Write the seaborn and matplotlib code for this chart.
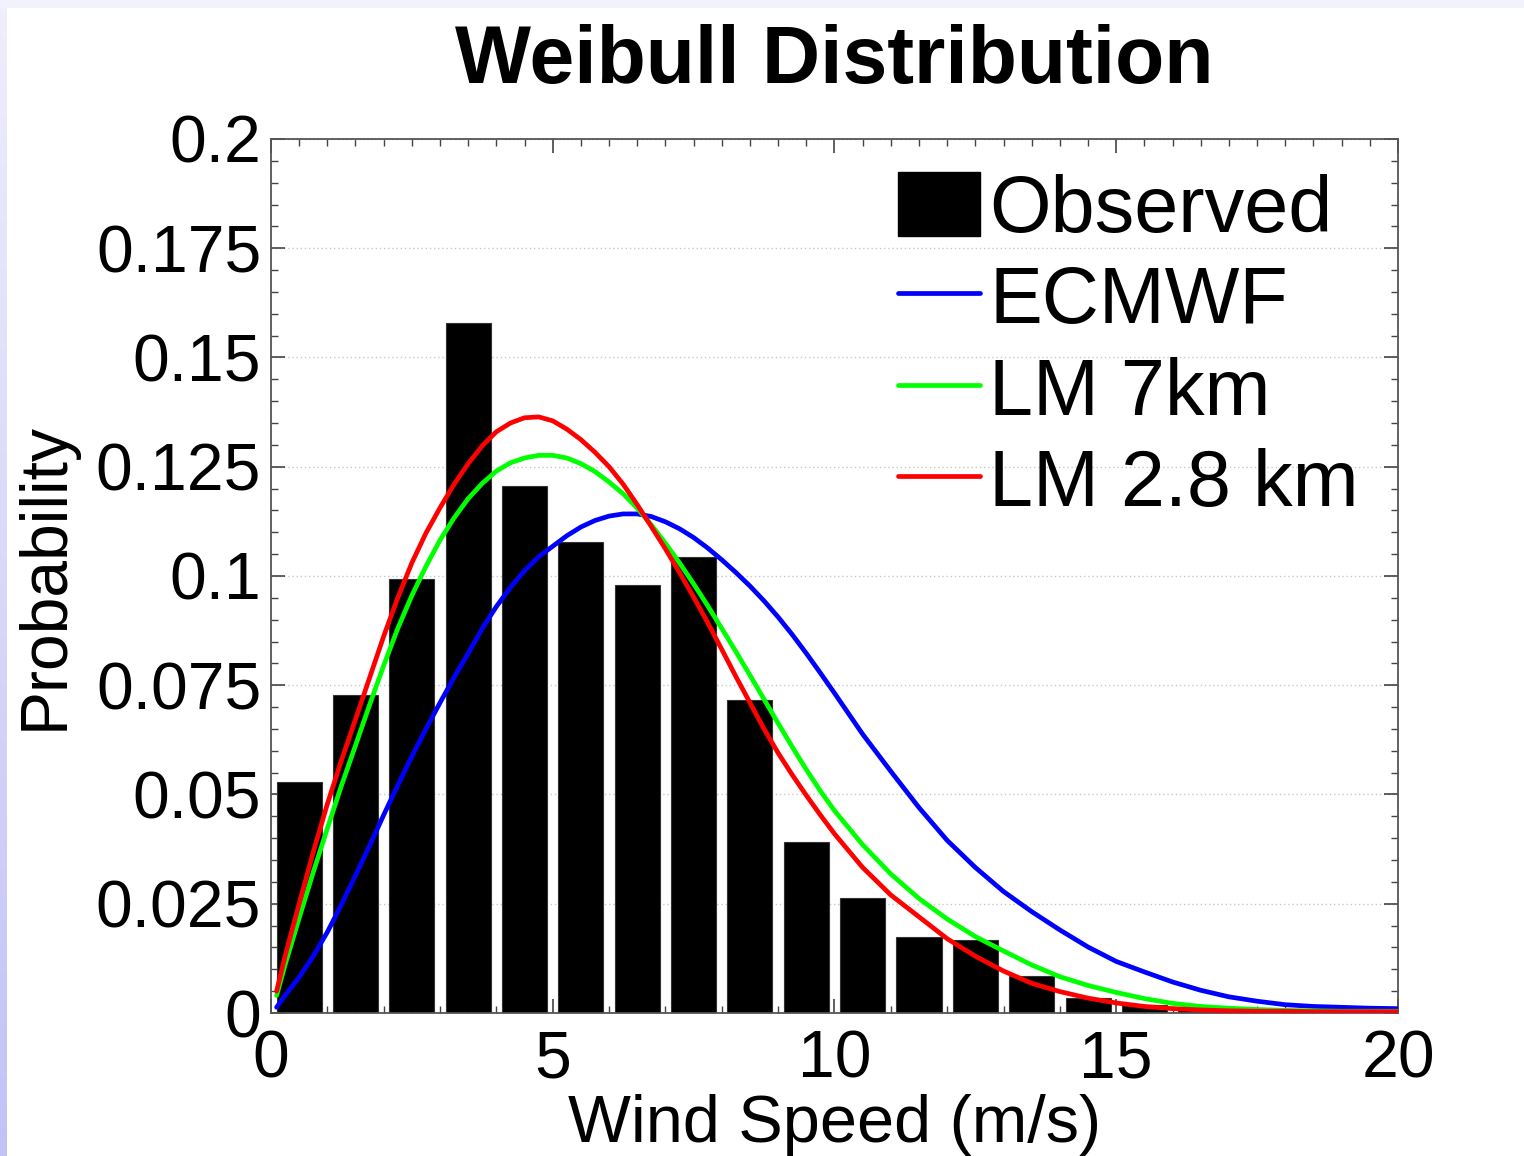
import numpy as np
import pandas as pd
import matplotlib
matplotlib.use("Agg")
import matplotlib.pyplot as plt
from matplotlib.patches import Patch, Rectangle
from matplotlib.lines import Line2D
from matplotlib.ticker import MultipleLocator
from matplotlib.colors import LinearSegmentedColormap
import seaborn as sns

# ── Données ────────────────────────────────────────────────────────────
bin_centers = [0.5, 1.5, 2.5, 3.5, 4.5, 5.5, 6.5, 7.5, 8.5, 9.5,
               10.5, 11.5, 12.5, 13.5, 14.5, 15.5, 16.5, 17.5, 18.5, 19.5]
observed = [0.0529, 0.0727, 0.0994, 0.158, 0.1205, 0.1078, 0.0979, 0.1043, 0.0716, 0.0392,
            0.0264, 0.0174, 0.0168, 0.0085, 0.0034, 0.0019, 0.0008, 0.0004, 0.0002, 0.0001]

curve_x = [0.1, 0.25, 0.5, 0.75, 1.0, 1.25, 1.5, 1.75, 2.0, 2.25,
           2.5, 2.75, 3.0, 3.25, 3.5, 3.75, 4.0, 4.25, 4.5, 4.75,
           5.0, 5.25, 5.5, 5.75, 6.0, 6.25, 6.5, 6.75, 7.0, 7.25,
           7.5, 7.75, 8.0, 8.25, 8.5, 8.75, 9.0, 9.25, 9.5, 9.75,
           10.0, 10.5, 11.0, 11.5, 12.0, 12.5, 13.0, 13.5, 14.0, 14.5,
           15.0, 15.5, 16.0, 16.5, 17.0, 17.5, 18.0, 18.5, 19.0, 19.5,
           20.0]
ecmwf = [0.0013, 0.0040, 0.0082, 0.0130, 0.0185, 0.0248, 0.0315, 0.0383, 0.0453, 0.0521,
         0.0587, 0.0650, 0.0710, 0.0768, 0.0823, 0.0880, 0.0930, 0.0974, 0.1012, 0.1044,
         0.1068, 0.1092, 0.1112, 0.1127, 0.1137, 0.1142, 0.1142, 0.1136, 0.1124, 0.1108,
         0.1088, 0.1064, 0.1037, 0.1008, 0.0977, 0.0943, 0.0906, 0.0866, 0.0823, 0.0778,
         0.0732, 0.0638, 0.0553, 0.047, 0.0395, 0.0333, 0.0278, 0.0232, 0.019, 0.0151,
         0.0118, 0.0094, 0.0071, 0.0052, 0.0037, 0.0027, 0.0019, 0.0015, 0.0013, 0.0011,
         0.0010]
lm_7km = [0.004, 0.011, 0.0217, 0.0322, 0.0422, 0.0520, 0.0612, 0.0705, 0.0795, 0.0880,
          0.0955, 0.1022, 0.1082, 0.1133, 0.1177, 0.1212, 0.1240, 0.1259, 0.1270, 0.1276,
          0.1276, 0.1270, 0.1257, 0.1239, 0.1215, 0.1188, 0.1155, 0.1117, 0.1075, 0.1030,
          0.0982, 0.0932, 0.0880, 0.0827, 0.0773, 0.0718, 0.0663, 0.0609, 0.0557, 0.0508,
          0.0463, 0.0385, 0.0318, 0.0262, 0.0215, 0.0175, 0.0142, 0.011, 0.0083, 0.0063,
          0.0047, 0.0033, 0.0022, 0.0015, 0.0011, 0.0008, 0.0006, 0.0005, 0.0004, 0.0004,
          0.0004]
lm_2p8km = [0.005, 0.013, 0.025, 0.0368, 0.0478, 0.0578, 0.0672, 0.0767, 0.0862, 0.0950,
            0.1030, 0.1098, 0.1156, 0.1210, 0.1257, 0.1298, 0.1330, 0.1350, 0.1362, 0.1364,
            0.1355, 0.1336, 0.1312, 0.1283, 0.1250, 0.1210, 0.1163, 0.1113, 0.1062, 0.1008,
            0.0952, 0.0893, 0.0832, 0.0770, 0.0710, 0.0650, 0.0595, 0.0545, 0.0498, 0.0453,
            0.0410, 0.0333, 0.027, 0.022, 0.017, 0.013, 0.0096, 0.0068, 0.0049, 0.0034,
            0.0023, 0.0015, 0.0010, 0.0007, 0.0005, 0.0004, 0.0004, 0.0003, 0.0003, 0.0003,
            0.0003]

series_names = ["ECMWF", "LM 7km", "LM 2.8 km"]
series_colors = {"ECMWF": "#0000ff", "LM 7km": "#00ff00", "LM 2.8 km": "#ff0000"}

y_ticks = [0, 0.025, 0.05, 0.075, 0.1, 0.125, 0.15, 0.175, 0.2]
y_ticklabels = ["0", "0.025", "0.05", "0.075", "0.1", "0.125", "0.15", "0.175", "0.2"]
x_ticks = [0, 5, 10, 15, 20]
x_ticklabels = ["0", "5", "10", "15", "20"]

# ── Tableaux pour seaborn ──────────────────────────────────────────────
bars_df = pd.DataFrame({"speed": bin_centers, "prob": observed})
curves_df = pd.concat([
    pd.DataFrame({"speed": curve_x, "prob": vals, "model": name})
    for name, vals in zip(series_names, [ecmwf, lm_7km, lm_2p8km])
], ignore_index=True)

sns.set_style("ticks")
plt.rcParams["font.family"] = ["Liberation Sans", "DejaVu Sans"]
plt.rcParams["text.color"] = "black"
plt.rcParams["axes.labelcolor"] = "black"
plt.rcParams["xtick.color"] = "black"
plt.rcParams["ytick.color"] = "black"

fig = plt.figure(figsize=(15.24, 11.56), dpi=100)
ax = fig.add_axes([0.1778, 0.1237, 0.7395, 0.7561])

# bandeau lavande (bord de la diapo)
fig.add_artist(Rectangle((0, 1 - 8 / 1156), 1, 8 / 1156, transform=fig.transFigure,
                         facecolor="#f2f2fd", edgecolor="none"))
strip = fig.add_axes([0, 0, 7 / 1524, 1 - 8 / 1156])
strip.imshow(np.linspace(0, 1, 256).reshape(-1, 1), aspect="auto",
             cmap=LinearSegmentedColormap.from_list("lav", ["#eeeefc", "#c2c2f6"]))
strip.set_axis_off()

sns.barplot(data=bars_df, x="speed", y="prob", native_scale=True, width=0.8,
            color="black", edgecolor="#333333", linewidth=0.8, saturation=1, ax=ax, zorder=2)
sns.lineplot(data=curves_df, x="speed", y="prob", hue="model", palette=series_colors,
             hue_order=series_names, linewidth=3.4, estimator=None, sort=False,
             legend=False, ax=ax, zorder=3, solid_joinstyle="round", solid_capstyle="round")

ax.set_xlim(0, 20)
ax.set_ylim(0, 0.2)
ax.set_xticks(x_ticks, x_ticklabels)
ax.set_yticks(y_ticks, y_ticklabels)
ax.xaxis.set_minor_locator(MultipleLocator(0.5))
ax.yaxis.set_minor_locator(MultipleLocator(0.005))
ax.tick_params(which="both", direction="in", top=True, right=True, color="#444444")
ax.tick_params(which="major", length=10, width=1.2, labelsize=47.5)
ax.tick_params(axis="x", which="major", pad=12)
ax.tick_params(axis="y", which="major", pad=7)
ax.tick_params(which="minor", length=5, width=1)
for sp in ax.spines.values():
    sp.set_color("#555555")
    sp.set_linewidth(1.3)

ax.yaxis.grid(True, linestyle=(0, (1, 2)), color="#c8c8c8", linewidth=1)
ax.set_axisbelow(True)

ax.set_xlabel("Wind Speed (m/s)", fontsize=48, labelpad=2)
ax.set_ylabel("Probability", fontsize=47.5, labelpad=14)
ax.set_title("Weibull Distribution", fontsize=58, fontweight="bold", pad=40)

handles = [Patch(facecolor="black", edgecolor="black", label="Observed")]
handles += [Line2D([], [], color=series_colors[n], linewidth=3.4, label=n) for n in series_names]
ax.legend(handles=handles, loc="upper left", bbox_to_anchor=(0.556, 0.962), frameon=False,
          fontsize=57, handlelength=1.04, handleheight=0.87, handletextpad=0.12,
          labelspacing=0.19, borderpad=0, borderaxespad=0)

fig.savefig("out.png", dpi=100)
